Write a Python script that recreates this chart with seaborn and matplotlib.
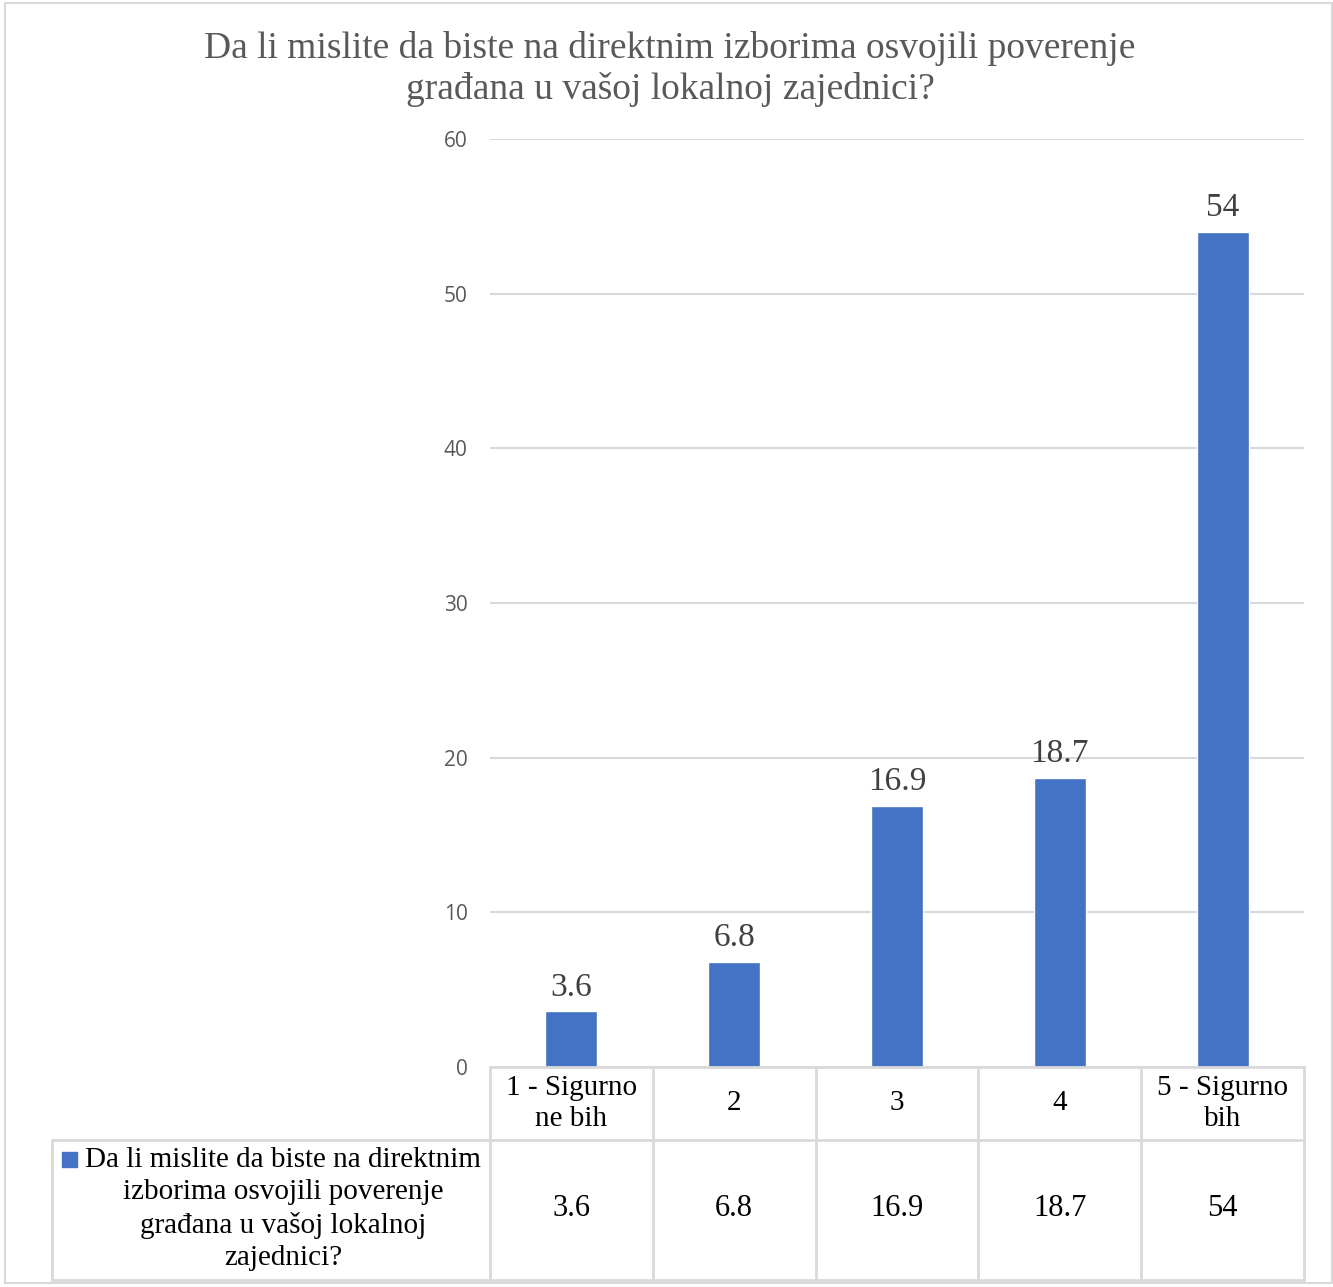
import matplotlib
matplotlib.use("Agg")
import matplotlib.pyplot as plt
import seaborn as sns
import pandas as pd
from matplotlib.patches import Rectangle

# data
categories = ["1 - Sigurno\nne bih", "2", "3", "4", "5 - Sigurno\nbih"]
values = [3.6, 6.8, 16.9, 18.7, 54]
value_labels = ["3.6", "6.8", "16.9", "18.7", "54"]
series_name = "Da li mislite da biste na direktnim\nizborima osvojili poverenje\ngrađana u vašoj lokalnoj\nzajednici?"
title = "Da li mislite da biste na direktnim izborima osvojili poverenje\ngrađana u vašoj lokalnoj zajednici?"
y_ticks = [0, 10, 20, 30, 40, 50, 60]

BAR = "#4472C4"
GRID = "#D9D9D9"
SERIF = "Liberation Serif"

sns.set_theme(style="white")
plt.rcParams["font.family"] = ["Liberation Serif", "DejaVu Sans"]

W, H = 1333, 1287
fig = plt.figure(figsize=(W / 100, H / 100), dpi=100)

# pixel layout of the plot area
x0, x1 = 490, 1304
y_top, y_zero = 139, 1067
ax = fig.add_axes([x0 / W, 1 - y_zero / H, (x1 - x0) / W, (y_zero - y_top) / H])

df = pd.DataFrame({"cat": categories, "val": values})
sns.barplot(data=df, x="cat", y="val", color=BAR, width=0.32, saturation=1, ax=ax)
ax.set_xlim(-0.5, len(categories) - 0.5)
ax.set_ylim(0, 60)
ax.set_yticks(y_ticks)
ax.set_yticklabels([str(t) for t in y_ticks])
ax.tick_params(axis="y", length=0, pad=16, labelsize=15, labelcolor="#595959")
for lab in ax.get_yticklabels():
    lab.set_fontfamily("Open Sans")
ax.set_xticks([])
ax.set_xlabel("")
ax.set_ylabel("")
for s in ax.spines.values():
    s.set_visible(False)
ax.grid(axis="y", color=GRID, linewidth=1.5)
ax.set_axisbelow(True)
ax.bar_label(ax.containers[0], labels=value_labels, padding=6,
             fontsize=24, family=SERIF, color="#404040")

# overlay in pixel coordinates for title, table and frame
ov = fig.add_axes([0, 0, 1, 1], zorder=-1)
ov.set_xlim(0, W)
ov.set_ylim(H, 0)
ov.axis("off")
ov.add_patch(Rectangle((5, 3), 1327, 1280, fill=False, edgecolor=GRID, linewidth=1.5))

top = fig.add_axes([0, 0, 1, 1], zorder=5)
top.set_xlim(0, W)
top.set_ylim(H, 0)
top.axis("off")
top.patch.set_alpha(0)

top.text(670, 69, title, ha="center", va="center", fontsize=27, family=SERIF,
         color="#595959", linespacing=1.25)

# data table
col_w = (x1 - x0) / len(categories)
row1, row2, row3 = y_zero, 1140, 1280
lw = 2
top.plot([x0, x1], [row1, row1], color=GRID, lw=lw)
top.plot([52, x1], [row2, row2], color=GRID, lw=lw)
top.plot([52, x1], [row3, row3], color=GRID, lw=lw)
top.plot([52, 52], [row2, row3], color=GRID, lw=lw)
for i in range(len(categories) + 1):
    xx = x0 + i * col_w
    top.plot([xx, xx], [row1, row3], color=GRID, lw=lw)

for i, (c, v) in enumerate(zip(categories, value_labels)):
    cx = x0 + (i + 0.5) * col_w
    top.text(cx, (row1 + row2) / 2, c, ha="center", va="center", fontsize=21,
             family=SERIF, color="black", linespacing=1.25)
    top.text(cx, 1208, v, ha="center", va="center", fontsize=22,
             family=SERIF, color="black")

top.add_patch(Rectangle((62, 1152), 15, 15, color=BAR))
top.text(283, 1209, series_name, ha="center", va="center", fontsize=21,
         family=SERIF, color="black", linespacing=1.3)

fig.savefig("out.png", dpi=100, facecolor="white")
